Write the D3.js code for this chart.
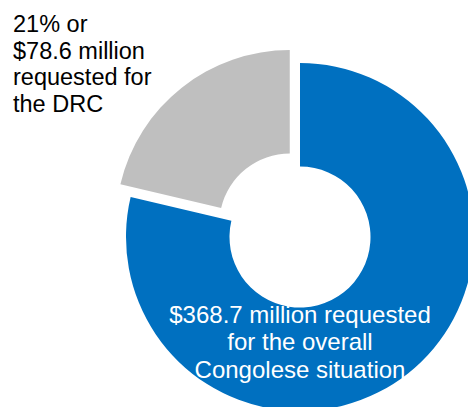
<!DOCTYPE html>
<html>
<head>
<meta charset="utf-8">
<script src="https://cdn.jsdelivr.net/npm/d3@7"></script>
<style>
  html, body { margin: 0; padding: 0; background: #ffffff; }
  svg { display: block; }
  text { font-family: "Liberation Sans", Arial, Helvetica, sans-serif; }
</style>
</head>
<body>
<svg id="chart" width="468" height="407"></svg>
<script>
// Funding requested (US$ million)
const totalRequested = 368.7;
const drcRequested = 78.6;
const categories = ["Rest of Congolese situation", "DRC"];
const values = [totalRequested - drcRequested, drcRequested];
const colors = ["#0070c0", "#bfbfbf"];

const drcLabelLines = ["21% or", "$78.6 million", "requested for", "the DRC"];
const totalLabelLines = ["$368.7 million requested", "for the overall", "Congolese situation"];

const width = 468, height = 407;
const cx = 300, cy = 237;
const outerR = 174, innerR = 70.5;
const explode = 16.5;

const svg = d3.select("#chart");

const pie = d3.pie().sort(null).value(d => d.value);
const arcs = pie(categories.map((c, i) => ({ name: c, value: values[i], color: colors[i] })));

const arc = d3.arc().innerRadius(innerR).outerRadius(outerR);

const g = svg.append("g").attr("transform", `translate(${cx},${cy})`);

g.selectAll("path.slice")
  .data(arcs)
  .join("path")
  .attr("class", "slice")
  .attr("d", arc)
  .attr("fill", d => d.data.color)
  .attr("transform", d => {
    if (d.data.name !== "DRC") return null;
    const mid = (d.startAngle + d.endAngle) / 2;
    return `translate(${Math.sin(mid) * explode},${-Math.cos(mid) * explode})`;
  });

// DRC annotation, top left
svg.append("text")
  .attr("x", 13)
  .attr("y", 32)
  .attr("font-size", 23.5)
  .attr("fill", "#000000")
  .selectAll("tspan")
  .data(drcLabelLines)
  .join("tspan")
  .attr("x", 13)
  .attr("dy", (d, i) => i === 0 ? 0 : 26.7)
  .text(d => d);

// Overall annotation, on the blue ring
svg.append("text")
  .attr("x", cx)
  .attr("y", 323)
  .attr("font-size", 24)
  .attr("fill", "#ffffff")
  .attr("text-anchor", "middle")
  .selectAll("tspan")
  .data(totalLabelLines)
  .join("tspan")
  .attr("x", cx)
  .attr("dy", (d, i) => i === 0 ? 0 : 27.3)
  .text(d => d);
</script>
</body>
</html>
